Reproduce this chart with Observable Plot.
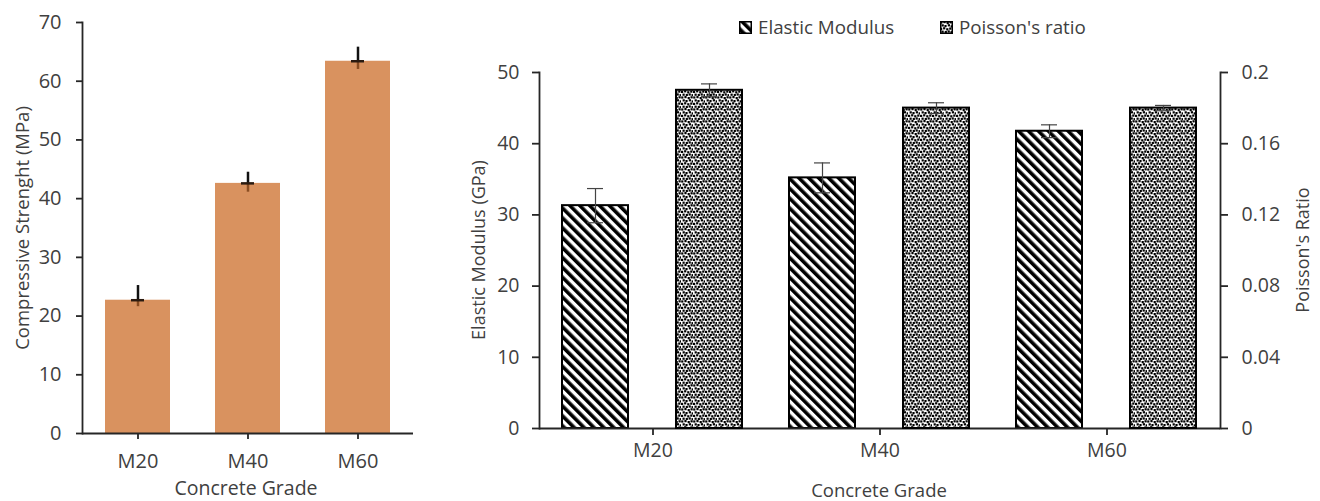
<!DOCTYPE html>
<html>
<head>
<meta charset="utf-8">
<script src="https://cdn.jsdelivr.net/npm/d3@7"></script>
<script src="https://cdn.jsdelivr.net/npm/@observablehq/plot@0.6"></script>
<style>
  html, body { margin: 0; padding: 0; background: #fff; }
  #wrap { position: relative; width: 1320px; height: 501px; font-family: "Open Sans", sans-serif; color: #404040; overflow: hidden; }
  #wrap > svg.plot { position: absolute; top: 0; }
  .ttl { position: absolute; white-space: nowrap; line-height: 1; transform: translate(-50%, -50%); }
  .ttl.rot { transform: translate(-50%, -50%) rotate(-90deg); }
  .leg { position: absolute; display: flex; align-items: center; white-space: nowrap; line-height: 1; font-size: 18.8px; }
  .leg svg { margin-right: 6px; }
</style>
</head>
<body>
<div id="wrap">
  <svg width="0" height="0" style="position:absolute">
    <defs>
      <pattern id="stripes" patternUnits="userSpaceOnUse" width="7" height="7" patternTransform="rotate(-45)">
        <rect width="7" height="7" fill="#fff"/>
        <rect width="3.6" height="7" fill="#000"/>
      </pattern>
      <pattern id="dots" patternUnits="userSpaceOnUse" width="12" height="12">
        <rect width="12" height="12" fill="#fff"/>
        <g fill="#000">
          <rect x="0.2" y="0.4" width="2.2" height="2.2"/>
          <rect x="3.4" y="0" width="2.2" height="2.2"/>
          <rect x="6.6" y="1" width="2.2" height="2.2"/>
          <rect x="9.5" y="0.2" width="2.2" height="2.2"/>
          <rect x="1.6" y="3.3" width="2.2" height="2.2"/>
          <rect x="4.4" y="4" width="2.2" height="2.2"/>
          <rect x="7.8" y="3.2" width="2.2" height="2.2"/>
          <rect x="10.6" y="4.3" width="2.2" height="2.2"/>
          <rect x="0" y="6.8" width="2.2" height="2.2"/>
          <rect x="3.1" y="6.2" width="2.2" height="2.2"/>
          <rect x="6.2" y="7.2" width="2.2" height="2.2"/>
          <rect x="9.2" y="6.5" width="2.2" height="2.2"/>
          <rect x="1.5" y="9.6" width="2.2" height="2.2"/>
          <rect x="4.7" y="9.9" width="2.2" height="2.2"/>
          <rect x="7.6" y="9.4" width="2.2" height="2.2"/>
          <rect x="10.5" y="10.1" width="2.2" height="2.2"/>
        </g>
      </pattern>
    </defs>
  </svg>
</div>
<script>
// ---------- data ----------
const grades = ["M20", "M40", "M60"];
const compStrength = [22.7, 42.6, 63.4];
const compErrUp = [2.5, 1.9, 2.4];
const compErrDown = [1.1, 1.5, 1.4];
const leftTicks = [0, 10, 20, 30, 40, 50, 60, 70];

const series = ["Elastic Modulus", "Poisson's ratio"];
const elasticModulus = [31.3, 35.2, 41.75];
const elasticErr = [2.4, 2.1, 0.9];
const poissonRatio = [0.19, 0.18, 0.18];
const poissonErr = [0.0036, 0.003, 0.0015];
const emTicks = [0, 10, 20, 30, 40, 50];
const prTicks = [0, 0.04, 0.08, 0.12, 0.16, 0.2];

const compRows = grades.map((g, i) => ({grade: g, value: compStrength[i], up: compErrUp[i], down: compErrDown[i]}));
const emRows = grades.map((g, i) => ({grade: g, series: series[0], value: elasticModulus[i], err: elasticErr[i]}));
const prRows = grades.map((g, i) => ({grade: g, series: series[1], value: poissonRatio[i], err: poissonErr[i]}));

const wrap = document.getElementById("wrap");
const axisStroke = "#262626";
const textFill = "#404040";
const font = "'Open Sans', sans-serif";

// ---------- left chart ----------
const left = Plot.plot({
  width: 433, height: 501,
  marginLeft: 82, marginRight: 20, marginTop: 22, marginBottom: 68,
  style: {fontFamily: font, background: "transparent", overflow: "visible"},
  x: {domain: grades, paddingInner: 0.41, paddingOuter: 0.205, axis: null},
  y: {domain: [0, 70], axis: null},
  marks: [
    Plot.barY(compRows, {x: "grade", y: "value", fill: "#D9925F"}),
    Plot.ruleX(compRows, {x: "grade", y1: d => d.value - d.down, y2: "value", stroke: "#8a4d22", strokeWidth: 2.5}),
    Plot.ruleX(compRows, {x: "grade", y1: "value", y2: d => d.value + d.up, stroke: "#111", strokeWidth: 2.5}),
    Plot.tickY(compRows, {x: "grade", y: "value", stroke: "#2a1a10", strokeWidth: 2.5, inset: 26}),
    Plot.ruleY([0], {stroke: axisStroke, strokeWidth: 1.8}),
    Plot.frame({anchor: "left", stroke: axisStroke, strokeWidth: 1.8}),
    Plot.axisY({ticks: leftTicks, tickSize: 6, tickPadding: 15, label: null, fontSize: 20, stroke: axisStroke, fill: textFill, strokeWidth: 1.8}),
    Plot.axisX({tickSize: 6, tickPadding: 14, label: null, fontSize: 20, stroke: axisStroke, fill: textFill, strokeWidth: 1.8})
  ]
});
left.classList.add("plot");
left.style.left = "0px";
wrap.appendChild(left);

// ---------- right chart: elastic modulus (left axis) ----------
const common = {
  width: 880, height: 501,
  marginLeft: 98, marginRight: 99, marginTop: 72, marginBottom: 73,
  style: {fontFamily: font, background: "transparent", overflow: "visible"},
  fx: {domain: grades, padding: 0, axis: null},
  x: {domain: series, paddingInner: 0.417, paddingOuter: 0.199, axis: null}
};

const right1 = Plot.plot({
  ...common,
  y: {domain: [0, 50], axis: null},
  marks: [
    Plot.barY(emRows, {fx: "grade", x: "series", y: "value", fill: "url(#stripes)", stroke: "#000", strokeWidth: 2}),
    Plot.ruleX(emRows, {fx: "grade", x: "series", y1: d => d.value - d.err, y2: d => d.value + d.err, stroke: "#444", strokeWidth: 1.2}),
    Plot.tickY(emRows, {fx: "grade", x: "series", y: d => d.value + d.err, stroke: "#444", strokeWidth: 1.2, inset: 25}),
    Plot.tickY(emRows, {fx: "grade", x: "series", y: d => d.value - d.err, stroke: "#444", strokeWidth: 1.2, inset: 25}),
    Plot.ruleY([0], {stroke: axisStroke, strokeWidth: 1.8}),
    Plot.frame({anchor: "left", facetAnchor: "left", stroke: axisStroke, strokeWidth: 1.8}),
    Plot.axisY({ticks: emTicks, tickSize: 7, tickPadding: 13, label: null, fontSize: 19.5, stroke: axisStroke, fill: textFill, strokeWidth: 1.8}),
    Plot.axisFx({anchor: "bottom", tickSize: 7, tickPadding: 8, label: null, fontSize: 19.5, stroke: axisStroke, fill: textFill, strokeWidth: 1.8})
  ]
});
right1.classList.add("plot");
right1.style.left = "440px";
wrap.appendChild(right1);

// ---------- right chart: Poisson's ratio (right axis) ----------
const right2 = Plot.plot({
  ...common,
  y: {domain: [0, 0.2], axis: null},
  marks: [
    Plot.barY(prRows, {fx: "grade", x: "series", y: "value", fill: "url(#dots)", stroke: "#000", strokeWidth: 2}),
    Plot.ruleX(prRows, {fx: "grade", x: "series", y1: d => d.value - d.err, y2: d => d.value + d.err, stroke: "#444", strokeWidth: 1.2}),
    Plot.tickY(prRows, {fx: "grade", x: "series", y: d => d.value + d.err, stroke: "#444", strokeWidth: 1.2, inset: 25}),
    Plot.tickY(prRows, {fx: "grade", x: "series", y: d => d.value - d.err, stroke: "#444", strokeWidth: 1.2, inset: 25}),
    Plot.frame({anchor: "right", facetAnchor: "right", stroke: axisStroke, strokeWidth: 1.8}),
    Plot.axisY({anchor: "right", ticks: prTicks, tickFormat: d3.format("~g"), tickSize: 7, tickPadding: 14, label: null, fontSize: 19.5, stroke: axisStroke, fill: textFill, strokeWidth: 1.8})
  ]
});
right2.classList.add("plot");
right2.style.left = "440px";
wrap.appendChild(right2);

// ---------- titles ----------
function title(text, x, y, size, rot) {
  const d = document.createElement("div");
  d.className = "ttl" + (rot ? " rot" : "");
  d.textContent = text;
  d.style.left = x + "px";
  d.style.top = y + "px";
  d.style.fontSize = size + "px";
  wrap.appendChild(d);
}
title("Compressive Strenght (MPa)", 22, 228, 18.5, true);
title("Concrete Grade", 246, 488, 19.5, false);
title("Elastic Modulus (GPa)", 478, 250, 18, true);
title("Poisson's Ratio", 1302, 250, 18, true);
title("Concrete Grade", 879, 490, 18.5, false);

// ---------- legend ----------
function legendItem(label, fill, x) {
  const d = document.createElement("div");
  d.className = "leg";
  d.style.left = x + "px";
  d.style.top = "18px";
  d.innerHTML = `<svg width="13" height="13"><rect x="0.75" y="0.75" width="11.5" height="11.5" fill="${fill}" stroke="#000" stroke-width="1.5"/></svg>`;
  const s = document.createElement("span");
  s.textContent = label;
  d.appendChild(s);
  wrap.appendChild(d);
}
legendItem(series[0], "url(#stripes)", 739);
legendItem(series[1], "url(#dots)", 940);
</script>
</body>
</html>
